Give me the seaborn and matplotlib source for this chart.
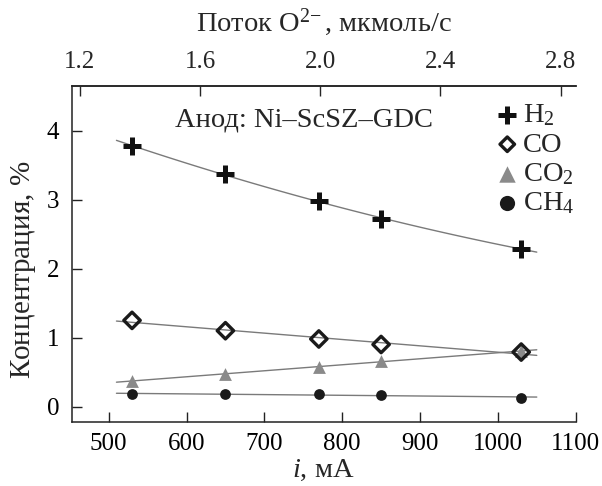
import numpy as np
import pandas as pd
import matplotlib
matplotlib.use("Agg")
import matplotlib.pyplot as plt
import seaborn as sns

# ---- data ----
current_mA = [530, 650, 770, 850, 1030]
h2 = [3.78, 3.37, 2.98, 2.72, 2.29]
co = [1.25, 1.10, 0.98, 0.90, 0.79]
co2 = [0.37, 0.47, 0.58, 0.66, 0.80]
ch4 = [0.18, 0.18, 0.18, 0.16, 0.13]
species = ["H$_2$", "CO", "CO$_2$", "CH$_4$"]
fit_range = [510, 1050]
fit_degree = [2, 1, 1, 1]
x_ticks = [500, 600, 700, 800, 900, 1000, 1100]
y_ticks = [0, 1, 2, 3, 4]
top_ticks = [1.2, 1.6, 2.0, 2.4, 2.8]

sns.set_theme(style="ticks")
plt.rcParams['font.family'] = ['Liberation Serif', 'DejaVu Serif']
plt.rcParams['mathtext.fontset'] = 'custom'
plt.rcParams['mathtext.rm'] = 'Liberation Serif'
plt.rcParams['mathtext.it'] = 'Liberation Serif:italic'
plt.rcParams['mathtext.bf'] = 'Liberation Serif:bold'

FS_TICK = 18
FS_TXT = 20.5
FS_YLAB = 21

rows = []
for name, vals in zip(species, [h2, co, co2, ch4]):
    for x, y in zip(current_mA, vals):
        rows.append({"I": x, "C": y, "species": name})
df = pd.DataFrame(rows)

fit_rows = []
xx = np.linspace(fit_range[0], fit_range[1], 60)
for name, vals, deg in zip(species, [h2, co, co2, ch4], fit_degree):
    p = np.polyfit(current_mA, vals, deg)
    for x in xx:
        fit_rows.append({"I": x, "C": np.polyval(p, x), "species": name})
dfit = pd.DataFrame(fit_rows)

fig = plt.figure(figsize=(6.02, 4.86), dpi=100)
# axes box: left 71.7px, right 575.7px, top 86px, bottom 421.7px
ax = fig.add_axes([71.7 / 602, 1 - 421.7 / 486, 504 / 602, 335.7 / 486])

sns.lineplot(data=dfit, x="I", y="C", units="species", estimator=None,
             color="#7a7a7a", lw=1.0, ax=ax, legend=False)

styles = {
    "H$_2$": dict(marker="+", s=150, color="#111111", linewidth=3.6),
    "CO": dict(marker="D", s=70, facecolor="none", edgecolor="#1a1a1a", linewidth=2.4),
    "CO$_2$": dict(marker="^", s=85, color="#8a8a8a", edgecolor="#8a8a8a", linewidth=0),
    "CH$_4$": dict(marker="o", s=60, color="#1a1a1a", edgecolor="#1a1a1a", linewidth=0),
}
legend_sizes = {"H$_2$": 150, "CO": 55, "CO$_2$": 140, "CH$_4$": 120}
draw_order = ["H$_2$", "CO$_2$", "CO", "CH$_4$"]
for name in draw_order:
    sub = df[df.species == name]
    st = styles[name]
    sns.scatterplot(data=sub, x="I", y="C", ax=ax, label=name, zorder=3, **st)

ax.set_xlim(452.5, 1100)
ax.set_ylim(-(421.7 - 406.5) / 68.9, (406.5 - 86) / 68.9)
ax.set_xticks(x_ticks)
ax.set_yticks(y_ticks)
ax.tick_params(direction="in", length=7, width=1, labelsize=FS_TICK, colors="#222222",
               labelcolor="black")
ax.tick_params(axis="x", pad=8)
ax.tick_params(axis="y", pad=9)
for s in ["left", "bottom", "top"]:
    ax.spines[s].set_linewidth(1.1)
    ax.spines[s].set_color("#222222")
ax.spines["right"].set_visible(False)
ax.spines["top"].set_visible(True)

ax.set_xlabel("$\\mathit{i}$, мА", fontsize=FS_TXT, labelpad=2)
ax.set_ylabel("Концентрация, $\\mathit{\\%}$", fontsize=FS_YLAB)
ax.yaxis.set_label_coords(-0.066, 0.452)

sec = ax.secondary_xaxis("top", functions=(lambda x: x * 0.002591, lambda f: f / 0.002591))
sec.set_xticks(top_ticks)
sec.set_xticklabels([f"{t:.1f}" for t in top_ticks])
sec.tick_params(direction="in", length=7, width=1, labelsize=FS_TICK, pad=9)
sec.spines["top"].set_linewidth(1.1)
sec.set_xlabel("Поток O$^{2\\!-}$, мкмоль/с", fontsize=FS_TXT, labelpad=15)

ax.text(585, 4.16, "Анод: Ni–ScSZ–GDC", fontsize=FS_TXT, va="center", ha="left")

handles, labels = ax.get_legend_handles_labels()
hmap = dict(zip(labels, handles))
leg = ax.legend([hmap[n] for n in species], species, loc="upper left",
                bbox_to_anchor=(0.836, 0.951), frameon=False,
                fontsize=FS_TXT, handletextpad=0.05, labelspacing=0.12,
                borderaxespad=0.0, borderpad=0.0, handlelength=1.0)
for h, n in zip(leg.legend_handles, species):
    h.set_sizes([legend_sizes[n]])

fig.savefig("out.png", dpi=100)
